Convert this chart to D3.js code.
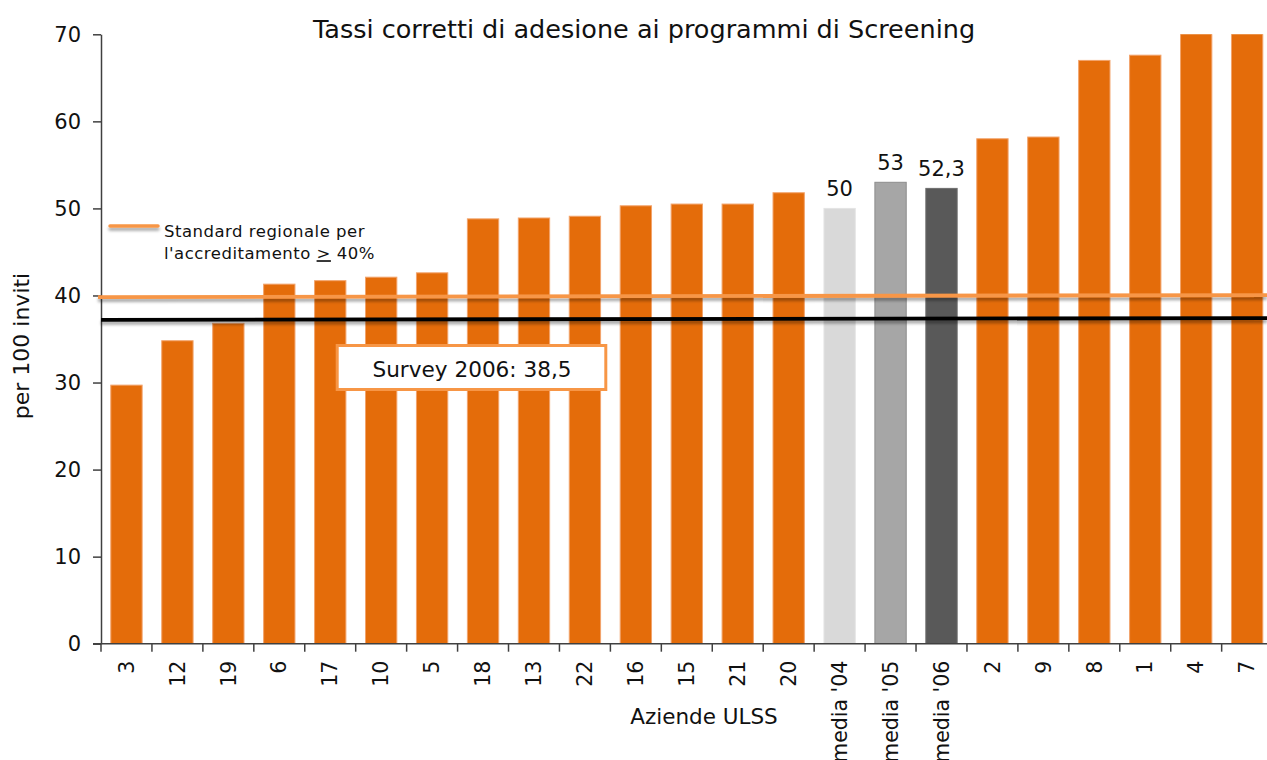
<!DOCTYPE html>
<html><head><meta charset="utf-8">
<script src="https://cdn.jsdelivr.net/npm/d3@7"></script>
<style>
body{margin:0;background:#fff;}
svg{display:block;font-family:"DejaVu Sans",Verdana,sans-serif;}
</style></head><body>
<svg id="chart"></svg>
<script>
const W = 1267, H = 760;

const CATEGORIES = ['3','12','19','6','17','10','5','18','13','22','16','15','21','20',
  "media '04","media '05","media '06",'2','9','8','1','4','7'];
const VALUES = [29.7,34.8,36.8,41.3,41.7,42.1,42.6,48.8,48.9,49.1,50.3,50.5,50.5,51.8,
  50,53,52.3,58.0,58.2,67.0,67.6,70.5,71];
const VALUE_LABELS = {"media '04":'50', "media '05":'53', "media '06":'52,3'};
const Y_TICKS = [0,10,20,30,40,50,60,70];
const STANDARD = [39.8, 40.05];   // regional standard line, left / right end as drawn
const SURVEY = [37.2, 37.4];      // survey 2006 line, left / right end as drawn

const FILL = {"media '04":'#d9d9d9', "media '05":'#a6a6a6', "media '06":'#595959'};
const EDGE = {"media '04":'#e4e4e4', "media '05":'#8c8c8c', "media '06":'#6e6e6e'};
const ORANGE = '#e46c0a', ORANGE_LT = '#f79646';

const L = 101, R = 1272.6, T = 34.3, B = 643.7;

const svg = d3.select('#chart').attr('width', W).attr('height', H);
const defs = svg.append('defs');

defs.append('clipPath').attr('id','plot')
  .append('rect').attr('x',L).attr('y',T).attr('width',R-L).attr('height',B-T);

// soft shadow under the drawn lines
const sh = defs.append('filter').attr('id','shadow').attr('filterUnits','userSpaceOnUse')
  .attr('x',0).attr('y',0).attr('width',W).attr('height',H);
sh.append('feGaussianBlur').attr('in','SourceAlpha').attr('stdDeviation',1.8).attr('result','b');
sh.append('feOffset').attr('in','b').attr('dy',3).attr('result','o');
sh.append('feComponentTransfer').attr('in','o').attr('result','s')
  .append('feFuncA').attr('type','linear').attr('slope',0.35);
const shm = sh.append('feMerge');
shm.append('feMergeNode').attr('in','s');
shm.append('feMergeNode').attr('in','SourceGraphic');

const x = d3.scaleBand().domain(CATEGORIES).range([L, R]).padding(0);
const y = d3.scaleLinear().domain([0, 70]).range([B, T]);
const bw = x.step() * 0.615;

const data = CATEGORIES.map((c, i) => ({c, v: VALUES[i]}));

// title
svg.append('text').attr('x', 644).attr('y', 38).attr('text-anchor','middle')
  .attr('font-size', 25.5).attr('fill','#111').text('Tassi corretti di adesione ai programmi di Screening');

// bars
svg.append('g').attr('clip-path','url(#plot)')
  .selectAll('rect').data(data).join('rect')
  .attr('x', d => x(d.c) + (x.step() - bw) / 2)
  .attr('y', d => y(d.v))
  .attr('width', bw)
  .attr('height', d => B - y(d.v))
  .attr('fill', d => FILL[d.c] || ORANGE)
  .attr('stroke', d => EDGE[d.c] || '#f2a36b')
  .attr('stroke-width', 1);

// value labels on the average bars
svg.append('g').selectAll('text').data(data.filter(d => VALUE_LABELS[d.c])).join('text')
  .attr('x', d => x(d.c) + x.step() / 2)
  .attr('y', d => y(d.v) - 12)
  .attr('text-anchor','middle').attr('font-size', 21).attr('fill','#111')
  .text(d => VALUE_LABELS[d.c]);

// y axis
const ya = svg.append('g').attr('transform', `translate(${L},0)`)
  .call(d3.axisLeft(y).tickValues(Y_TICKS).tickSize(8).tickPadding(12).tickSizeOuter(0));
ya.select('.domain').attr('stroke','#404040').attr('stroke-width',1.5);
ya.selectAll('.tick line').attr('stroke','#404040').attr('stroke-width',1.5);
ya.selectAll('.tick text').attr('font-size', 21).attr('fill','#111')
  .attr('font-family','"DejaVu Sans",Verdana,sans-serif');

// x axis: line, ticks at band edges, rotated labels
const xa = svg.append('g');
xa.append('line').attr('x1', L - 8).attr('x2', R).attr('y1', B).attr('y2', B)
  .attr('stroke','#404040').attr('stroke-width',1.5);
xa.selectAll('line.tk').data(CATEGORIES.map(c => x(c)).concat([R])).join('line')
  .attr('class','tk').attr('x1', d => d).attr('x2', d => d)
  .attr('y1', B).attr('y2', B + 8).attr('stroke','#404040').attr('stroke-width',1.5);
xa.selectAll('text').data(CATEGORIES).join('text')
  .attr('transform', d => `translate(${x(d) + x.step() / 2},${B + 17}) rotate(-90)`)
  .attr('text-anchor','end').attr('dy','0.35em')
  .attr('font-size', 20.5).attr('fill','#111').text(d => d);

svg.append('text').attr('x', 704).attr('y', 724).attr('text-anchor','middle')
  .attr('font-size', 21.5).attr('fill','#111').text('Aziende ULSS');

svg.append('text').attr('transform', 'translate(29,346) rotate(-90)')
  .attr('text-anchor','middle').attr('font-size', 22).attr('fill','#111').text('per 100 inviti');

// reference lines
svg.append('line').attr('x1', L - 3).attr('x2', W).attr('y1', y(STANDARD[0])).attr('y2', y(STANDARD[1]))
  .attr('stroke', ORANGE_LT).attr('stroke-width', 3.8).attr('filter','url(#shadow)');
svg.append('line').attr('x1', L).attr('x2', W).attr('y1', y(SURVEY[0])).attr('y2', y(SURVEY[1]))
  .attr('stroke', '#000').attr('stroke-width', 3.8).attr('filter','url(#shadow)');

// survey annotation box
svg.append('rect').attr('x', 337.2).attr('y', 345.5).attr('width', 268.6).attr('height', 44)
  .attr('fill','#fff').attr('stroke', ORANGE_LT).attr('stroke-width', 3);
svg.append('text').attr('x', 472).attr('y', 376.5).attr('text-anchor','middle')
  .attr('font-size', 21.6).attr('fill','#111').text('Survey 2006: 38,5');

// legend for the standard line
svg.append('line').attr('x1', 110).attr('x2', 158).attr('y1', 226).attr('y2', 226)
  .attr('stroke', ORANGE_LT).attr('stroke-width', 3.5).attr('stroke-linecap','round')
  .attr('filter','url(#shadow)');
const lg = svg.append('text').attr('x', 164).attr('y', 236.7).attr('font-size', 16.5)
  .attr('letter-spacing', 0.5).attr('fill','#111');
lg.append('tspan').attr('x', 164).text('Standard regionale per');
const l2 = lg.append('tspan').attr('x', 164).attr('dy', 22.5);
l2.append('tspan').text("l'accreditamento ");
l2.append('tspan').attr('text-decoration','underline').text('>');
l2.append('tspan').text(' 40%');
</script>
</body></html>
